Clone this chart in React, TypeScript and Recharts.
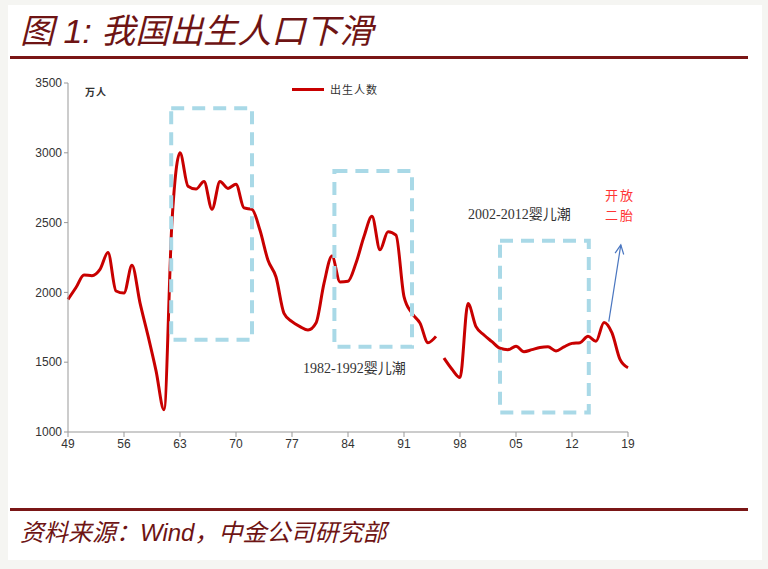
import React from 'react';
import { LineChart, Line, XAxis, YAxis, ReferenceArea, ReferenceLine, Legend } from 'recharts';

// 出生人数（万人），1949-2019
const years = [
  1949, 1950, 1951, 1952, 1953, 1954, 1955, 1956, 1957, 1958, 1959, 1960, 1961, 1962, 1963, 1964, 1965, 1966,
  1967, 1968, 1969, 1970, 1971, 1972, 1973, 1974, 1975, 1976, 1977, 1978, 1979, 1980, 1981, 1982, 1983, 1984,
  1985, 1986, 1987, 1988, 1989, 1990, 1991, 1992, 1993, 1994, 1995, 1996, 1997, 1998, 1999, 2000, 2001, 2002,
  2003, 2004, 2005, 2006, 2007, 2008, 2009, 2010, 2011, 2012, 2013, 2014, 2015, 2016, 2017, 2018, 2019,
];
const births = [
  1950, 2035, 2125, 2120, 2165, 2285, 2010, 1995, 2195, 1925, 1690, 1440, 1160, 2510, 3000, 2760, 2740, 2795,
  2595, 2795, 2745, 2775, 2605, 2595, 2445, 2230, 2110, 1850, 1790, 1755, 1730, 1780, 2065, 2260, 2075, 2080,
  2210, 2400, 2545, 2305, 2435, 2410, 1970, 1850, 1780, 1640, 1685, 1530, 1450, 1390, 1920, 1755, 1695, 1647,
  1600, 1590, 1615, 1575, 1590, 1605, 1610, 1580, 1610, 1635, 1640, 1685, 1650, 1785, 1710, 1520, 1460,
];
// the source line breaks between these two years
const breakAfter = 1995;

const xTicks = [1949, 1956, 1963, 1970, 1977, 1984, 1991, 1998, 2005, 2012, 2019];
const xTickLabels = ['49', '56', '63', '70', '77', '84', '91', '98', '05', '12', '19'];
const yTicks = [1000, 1500, 2000, 2500, 3000, 3500];

// dashed boxes marking the baby booms, in data units
const boomBoxes = [
  { x1: 1961.9, x2: 1972, y1: 1660, y2: 3320 },
  { x1: 1982.3, x2: 1992, y1: 1610, y2: 2870 },
  { x1: 2003, x2: 2014.1, y1: 1140, y2: 2370 },
];

const rows = years.map((year, i) => ({ year, births: births[i] }));
const firstPart = rows.filter((r) => r.year <= breakAfter);
const secondPart = rows.filter((r) => r.year > breakAfter);

const RED = '#c80000';
const DARK = '#6e1414';
const BOX = '#a9d9e7';

const ArrowShape = (props: any) => {
  const { x1, y1, x2, y2 } = props;
  if ([x1, y1, x2, y2].some((v) => v == null || isNaN(v))) return null;
  const ang = Math.atan2(y2 - y1, x2 - x1);
  const len = 10;
  const spread = 0.45;
  const ax = x2 - len * Math.cos(ang - spread);
  const ay = y2 - len * Math.sin(ang - spread);
  const bx = x2 - len * Math.cos(ang + spread);
  const by = y2 - len * Math.sin(ang + spread);
  return (
    <g stroke="#4a76c0" strokeWidth={1.2} fill="none">
      <line x1={x1} y1={y1} x2={x2} y2={y2} />
      <polyline points={`${ax},${ay} ${x2},${y2} ${bx},${by}`} />
    </g>
  );
};

const LegendContent = () => (
  <div style={{ display: 'flex', alignItems: 'center', fontFamily: '"Noto Sans CJK SC"', fontSize: 11, color: '#333' }}>
    <span style={{ display: 'inline-block', width: 32, height: 3, background: RED, marginRight: 6 }} />
    <span style={{ letterSpacing: 1 }}>出生人数</span>
  </div>
);

const serif = '"Liberation Serif", "Noto Sans CJK SC", serif';

export default function App() {
  return (
    <div style={{ position: 'fixed', left: 0, top: 0, width: 768, height: 569, background: '#f5f5f2', overflow: 'hidden' }}>
      <div style={{ position: 'absolute', left: 8, top: 5, width: 754, height: 555, background: '#fff' }} />

      <div
        style={{
          position: 'absolute',
          left: 20,
          top: 13,
          fontFamily: '"Liberation Sans", "Noto Sans CJK SC", sans-serif',
          fontStyle: 'italic',
          fontSize: 34,
          lineHeight: '36px',
          color: DARK,
          whiteSpace: 'nowrap',
        }}
      >
        图 1: 我国出生人口下滑
      </div>
      <div style={{ position: 'absolute', left: 10, top: 56, width: 738, height: 3, background: '#7a1616' }} />

      <div style={{ position: 'absolute', left: 0, top: 0 }}>
        <LineChart width={768} height={569} margin={{ top: 83, right: 140, bottom: 107, left: 8 }}>
          <XAxis
            type="number"
            dataKey="year"
            domain={[1949, 2019]}
            ticks={xTicks}
            tickFormatter={(v: number) => xTickLabels[xTicks.indexOf(v)] ?? ''}
            stroke="#999"
            tickSize={5}
            tick={{ fill: '#333', fontSize: 12, fontFamily: '"Liberation Sans", Arial' }}
            height={30}
            allowDuplicatedCategory={false}
          />
          <YAxis
            type="number"
            domain={[1000, 3500]}
            ticks={yTicks}
            stroke="#999"
            tickSize={4}
            tick={{ fill: '#333', fontSize: 12, fontFamily: '"Liberation Sans", Arial' }}
            width={60}
          />
          <Legend
            layout="vertical"
            align="center"
            verticalAlign="middle"
            content={<LegendContent />}
            wrapperStyle={{ left: 292, top: 81, width: 120, height: 18 }}
          />
          <Line
            data={firstPart}
            dataKey="births"
            type="monotone"
            stroke={RED}
            strokeWidth={3}
            dot={false}
            activeDot={false}
            isAnimationActive={false}
            legendType="none"
          />
          <Line
            data={secondPart}
            dataKey="births"
            type="monotone"
            stroke={RED}
            strokeWidth={3}
            dot={false}
            activeDot={false}
            isAnimationActive={false}
            legendType="none"
          />
          {boomBoxes.map((b, i) => (
            <ReferenceArea
              key={i}
              x1={b.x1}
              x2={b.x2}
              y1={b.y1}
              y2={b.y2}
              fill="none"
              fillOpacity={0}
              stroke={BOX}
              strokeWidth={4}
              strokeDasharray="13 8"
              zIndex={600}
            />
          ))}
          <ReferenceLine
            segment={[
              { x: 2016.6, y: 1790 },
              { x: 2018.1, y: 2340 },
            ]}
            shape={ArrowShape}
            zIndex={600}
          />
        </LineChart>
      </div>

      <div style={{ position: 'absolute', left: 85, top: 84, fontFamily: '"Noto Sans CJK SC"', fontSize: 10, fontWeight: 700, color: '#333', letterSpacing: 1 }}>
        万人
      </div>
      <div style={{ position: 'absolute', left: 303, top: 357, fontFamily: serif, fontSize: 14, color: '#333', whiteSpace: 'nowrap' }}>
        1982-1992婴儿潮
      </div>
      <div style={{ position: 'absolute', left: 468, top: 203, fontFamily: serif, fontSize: 14, color: '#333', whiteSpace: 'nowrap' }}>
        2002-2012婴儿潮
      </div>
      <div
        style={{
          position: 'absolute',
          left: 605,
          top: 185,
          fontFamily: '"Noto Sans CJK SC"',
          fontSize: 13,
          lineHeight: '20px',
          color: '#ff3434',
          letterSpacing: 2,
          textAlign: 'center',
        }}
      >
        开放
        <br />
        二胎
      </div>

      <div style={{ position: 'absolute', left: 10, top: 508, width: 738, height: 3, background: '#7a1616' }} />
      <div
        style={{
          position: 'absolute',
          left: 20,
          top: 519,
          fontFamily: '"Liberation Sans", "Noto Sans CJK SC", sans-serif',
          fontStyle: 'italic',
          fontSize: 24,
          lineHeight: '28px',
          color: DARK,
          whiteSpace: 'nowrap',
        }}
      >
        资料来源：Wind，中金公司研究部
      </div>
    </div>
  );
}
